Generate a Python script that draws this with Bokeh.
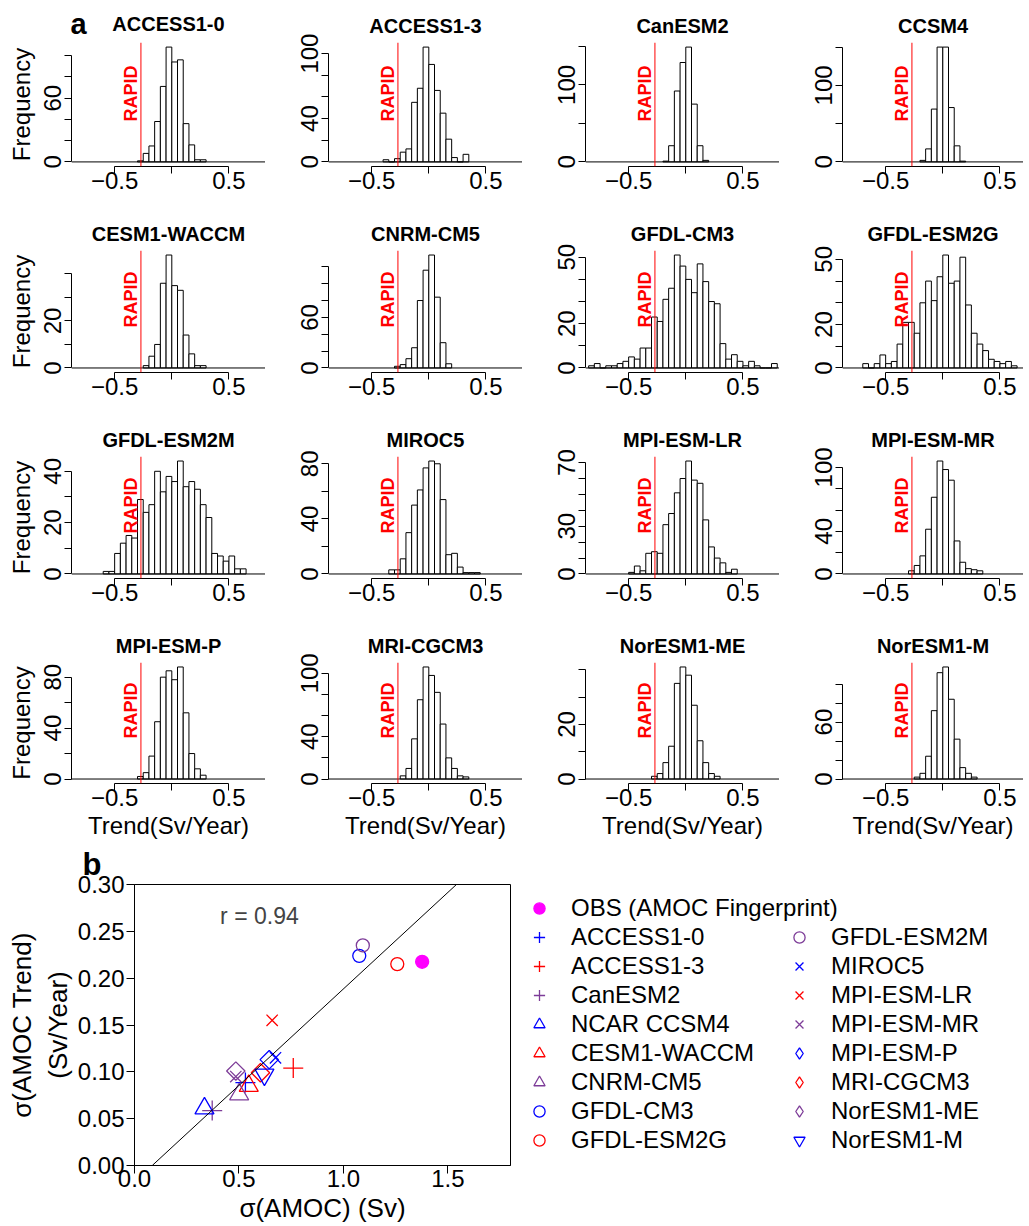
import math
from bokeh.plotting import figure
from bokeh.models import (FixedTicker, Span, Label, Slope, Legend, LegendItem,
                          Range1d, NumeralTickFormatter, Title)
from bokeh.layouts import column, row
from bokeh.embed import file_html
from bokeh.resources import INLINE

FONT = "Liberation Sans"

# ---------------- panel a data ----------------
BIN_WIDTH = 0.05
RAPID_TREND = -0.27

hist_names = ["ACCESS1-0", "ACCESS1-3", "CanESM2", "CCSM4",
              "CESM1-WACCM", "CNRM-CM5", "GFDL-CM3", "GFDL-ESM2G",
              "GFDL-ESM2M", "MIROC5", "MPI-ESM-LR", "MPI-ESM-MR",
              "MPI-ESM-P", "MRI-CGCM3", "NorESM1-ME", "NorESM1-M"]

# left edge of the first bin of each histogram
hist_first_edge = [-0.30, -0.40, -0.20, -0.20, -0.25, -0.30, -0.85, -0.70,
                   -0.60, -0.35, -0.50, -0.30, -0.30, -0.25, -0.30, -0.25]

counts_access1_0 = [1, 8, 15, 38, 71, 108, 94, 96, 36, 16, 2, 2]
counts_access1_3 = [2, 0, 3, 9, 12, 55, 68, 106, 90, 66, 45, 21, 4, 0, 7]
counts_canesm2 = [1, 21, 92, 129, 149, 75, 21, 2]
counts_ccsm4 = [2, 17, 69, 150, 150, 71, 21, 1]
counts_cesm1_waccm = [1, 5, 10, 36, 48, 35, 33, 14, 6, 1, 1]
counts_cnrm_cm5 = [2, 4, 11, 24, 80, 116, 134, 84, 30, 5]
counts_gfdl_cm3 = [1, 2, 0, 1, 1, 2, 3, 5, 4, 9, 9, 23, 21, 31, 36, 51, 46,
                   40, 34, 47, 39, 30, 29, 11, 4, 6, 3, 1, 3, 1, 0, 0, 2]
counts_gfdl_esm2g = [2, 0, 2, 6, 2, 3, 11, 21, 21, 16, 30, 40, 31, 42, 52, 39,
                     40, 51, 29, 16, 11, 8, 4, 3, 2, 3, 1]
counts_gfdl_esm2m = [1, 1, 8, 12, 15, 14, 29, 24, 27, 40, 32, 38, 36, 44, 34,
                     36, 33, 27, 22, 8, 7, 5, 7, 2, 2]
counts_miroc5 = [3, 3, 11, 30, 50, 61, 77, 82, 80, 54, 14, 15, 5, 1, 1, 1]
counts_mpi_esm_lr = [1, 5, 2, 13, 14, 13, 31, 38, 51, 60, 71, 59, 57, 34, 17,
                     10, 7, 1, 3]
counts_mpi_esm_mr = [3, 8, 17, 42, 72, 106, 98, 88, 31, 11, 5, 4, 3]
counts_mpi_esm_p = [2, 5, 18, 45, 80, 85, 78, 88, 52, 20, 8, 3]
counts_mri_cgcm3 = [3, 10, 38, 75, 106, 98, 82, 52, 20, 10, 3, 2]
counts_noresm1_me = [1, 2, 6, 12, 35, 41, 38, 27, 14, 6, 2, 1]
counts_noresm1_m = [2, 6, 24, 72, 112, 118, 84, 42, 12, 6, 2]

hist_counts = [counts_access1_0, counts_access1_3, counts_canesm2, counts_ccsm4,
               counts_cesm1_waccm, counts_cnrm_cm5, counts_gfdl_cm3,
               counts_gfdl_esm2g, counts_gfdl_esm2m, counts_miroc5,
               counts_mpi_esm_lr, counts_mpi_esm_mr, counts_mpi_esm_p,
               counts_mri_cgcm3, counts_noresm1_me, counts_noresm1_m]

ytick_top = [100, 100, 150, 150, 40, 120, 50, 50, 40, 80, 70, 100, 80, 100, 40, 100]
ytick_step = [20, 20, 50, 50, 10, 20, 10, 10, 10, 20, 10, 20, 20, 20, 10, 20]
ytick_shown = [[0, 60], [0, 40, 100], [0, 100], [0, 100], [0, 20], [0, 60],
               [0, 20, 50], [0, 20, 50], [0, 20, 40], [0, 40, 80], [0, 30, 70],
               [0, 40, 100], [0, 40, 80], [0, 40, 100], [0, 20], [0, 60]]
xtick_values = [-0.5, 0.0, 0.5]
xtick_labels = {-0.5: "\u22120.5", 0.0: "", 0.5: "0.5"}

# ---------------- panel b data ----------------
scatter_names = ["OBS (AMOC Fingerprint)", "ACCESS1-0", "ACCESS1-3", "CanESM2",
                 "NCAR CCSM4", "CESM1-WACCM", "CNRM-CM5", "GFDL-CM3",
                 "GFDL-ESM2G", "GFDL-ESM2M", "MIROC5", "MPI-ESM-LR",
                 "MPI-ESM-MR", "MPI-ESM-P", "MRI-CGCM3", "NorESM1-ME", "NorESM1-M"]
sigma_amoc = [1.377, 0.531, 0.760, 0.372, 0.335, 0.547, 0.501, 1.076, 1.258,
              1.093, 0.675, 0.659, 0.485, 0.645, 0.603, 0.485, 0.622]
sigma_trend = [0.2175, 0.0885, 0.104, 0.0586, 0.061, 0.085, 0.076, 0.2238,
               0.215, 0.235, 0.115, 0.155, 0.095, 0.113, 0.099, 0.1008, 0.097]
fit_slope = 0.206
fit_intercept = -0.0175
r_text = "r = 0.94"
r_pos = (0.598, 0.266)

BLUE = "#0000FF"
RED = "#FF0000"
PURPLE = "#7D3C98"
MAGENTA = "#FF00FF"
scatter_markers = ["circle", "cross", "cross", "cross", "triangle", "triangle",
                   "triangle", "circle", "circle", "circle", "x", "x", "x",
                   "square", "square", "square", "inverted_triangle"]
scatter_colors = [MAGENTA, BLUE, RED, PURPLE, BLUE, RED, PURPLE, BLUE, RED,
                  PURPLE, BLUE, RED, PURPLE, BLUE, RED, PURPLE, BLUE]
MARKER_SIZE = {"circle": 13, "cross": 20, "triangle": 19, "x": 16,
               "square": 13, "inverted_triangle": 19}
MARKER_ANGLE = {"square": math.pi / 4}
LEGEND_MARKER = {"square": "diamond"}

# ---------------- layout constants ----------------
PX_PER_UNIT = 114.3
FRAME_H = 124
COL_WIDTH = [265, 257, 257, 244]
COL_LEFT = [71, 63, 63, 63]
ROW_HEIGHT = [214, 206, 206, 216]
ROW_TOP = [42, 34, 34, 33]


def style_axis(ax, size="24px"):
    ax.major_label_text_font = FONT
    ax.major_label_text_font_size = size
    ax.major_label_text_color = "black"
    ax.axis_label_text_font = FONT
    ax.axis_label_text_font_size = size
    ax.axis_label_text_font_style = "normal"
    ax.axis_label_text_color = "black"
    ax.axis_line_color = "black"
    ax.major_tick_line_color = "black"
    ax.major_tick_in = 0
    ax.major_tick_out = 7
    ax.minor_tick_out = 0
    ax.minor_tick_in = 0


def hist_panel(i, r, k):
    counts = hist_counts[i]
    first = hist_first_edge[i]
    left = [first + j * BIN_WIDTH for j in range(len(counts))]
    right = [v + BIN_WIDTH for v in left]
    M = max(counts)
    width = COL_WIDTH[k]
    height = ROW_HEIGHT[r]
    top_b = ROW_TOP[r]
    bottom_b = height - top_b - FRAME_H
    fw = width - COL_LEFT[k]
    x0 = -0.8775
    x1 = x0 + fw / PX_PER_UNIT
    p = figure(width=width, height=height, x_range=Range1d(x0, x1),
               y_range=Range1d(-0.04 * M, 1.04 * M), output_backend="svg",
               toolbar_location=None, min_border_left=COL_LEFT[k],
               min_border_right=0, min_border_top=top_b,
               min_border_bottom=bottom_b, title=hist_names[i])
    p.title.text_font = FONT
    p.title.text_font_size = "20px"
    p.title.text_font_style = "bold"
    p.title.text_color = "black"
    p.title.align = "center"
    p.title.standoff = 12
    p.grid.visible = False
    p.outline_line_color = None
    p.background_fill_color = None
    p.border_fill_color = None

    p.quad(left=left, right=right, bottom=0, top=counts, fill_color="white",
           line_color="black", line_width=1)
    p.add_layout(Span(location=0, dimension="width", line_color="black",
                      line_width=1))
    p.add_layout(Span(location=RAPID_TREND, dimension="height",
                      line_color="red", line_width=1))
    p.add_layout(Label(x=RAPID_TREND, y=73, x_units="data", y_units="screen",
                       text="RAPID", angle=math.pi / 2, text_align="center",
                       text_baseline="bottom", text_color="red",
                       text_font=FONT, text_font_size="18px",
                       text_font_style="bold"))

    xa = p.xaxis[0]
    style_axis(xa)
    xa.ticker = FixedTicker(ticks=xtick_values)
    xa.major_label_overrides = xtick_labels
    xa.bounds = (-0.5, 0.5)
    xa.major_label_standoff = -2
    if r == 3:
        xa.axis_label = "Trend(Sv/Year)"
        xa.axis_label_standoff = 3

    ya = p.yaxis[0]
    style_axis(ya)
    ticks = list(range(0, ytick_top[i] + 1, ytick_step[i]))
    ya.ticker = FixedTicker(ticks=ticks)
    ya.major_label_overrides = {t: (str(t) if t in ytick_shown[i] else "")
                                for t in ticks}
    ya.bounds = (0, ytick_top[i])
    ya.major_label_orientation = "vertical"
    ya.major_label_standoff = 3
    if k == 0:
        ya.axis_label = "Frequency"
        ya.axis_label_standoff = 7

    if i == 0:
        # panel letter, drawn in the same band as the model title
        p.add_layout(Title(text="a", align="left", offset=-1, standoff=6,
                           text_font=FONT, text_font_size="29px",
                           text_font_style="bold", text_color="black"),
                     "above")
        p.title.standoff = -65
    return p


rows = []
for r in range(4):
    rows.append(row(*[hist_panel(4 * r + k, r, k) for k in range(4)]))

# ---------------- panel b ----------------
s = figure(width=520, height=383, x_range=Range1d(0, 1.8),
           y_range=Range1d(0, 0.30), output_backend="svg",
           toolbar_location=None, min_border_left=134, min_border_right=10,
           min_border_top=41, min_border_bottom=57, title="b")
s.title.text_font = FONT
s.title.text_font_size = "31px"
s.title.text_font_style = "bold"
s.title.text_color = "black"
s.title.align = "left"
s.title.offset = -52
s.title.standoff = 5
s.grid.visible = False
s.outline_line_color = "black"
s.outline_line_width = 1
s.background_fill_color = None
s.border_fill_color = None

s.add_layout(Slope(gradient=fit_slope, y_intercept=fit_intercept,
                   line_color="black", line_width=1))

for i in range(len(scatter_names)):
    m = scatter_markers[i]
    c = scatter_colors[i]
    s.scatter([sigma_amoc[i]], [sigma_trend[i]], marker=m, size=MARKER_SIZE[m],
              angle=MARKER_ANGLE.get(m, 0.0), line_color=c,
              fill_color=(c if i == 0 else None), line_width=1.3)

sx = s.xaxis[0]
style_axis(sx, "24px")
sx.major_tick_out = 8
sx.ticker = FixedTicker(ticks=[0.0, 0.5, 1.0, 1.5])
sx.formatter = NumeralTickFormatter(format="0.0")
sx.axis_label = "\u03c3(AMOC) (Sv)"
sx.axis_label_text_font_size = "26px"
sx.major_label_standoff = -4
sx.axis_label_standoff = 3

sy = s.yaxis[0]
style_axis(sy, "24px")
sy.major_tick_out = 8
sy.ticker = FixedTicker(ticks=[0.0, 0.05, 0.10, 0.15, 0.20, 0.25, 0.30])
sy.formatter = NumeralTickFormatter(format="0.00")
sy.major_label_orientation = "horizontal"
sy.axis_label = "\u03c3(AMOC Trend)\n(Sv/Year)"
sy.axis_label_text_font_size = "26px"
sy.major_label_standoff = 2
sy.axis_label_standoff = 2

s.add_layout(Label(x=r_pos[0], y=r_pos[1], text=r_text, text_font=FONT,
                   text_font_size="23px", text_align="center",
                   text_baseline="middle"))

# ---------------- legend (separate canvas, its glyphs lie off-range) --------
lf = figure(width=504, height=383, x_range=Range1d(10, 11),
            y_range=Range1d(10, 11), output_backend="svg",
            toolbar_location=None, min_border=0,
            x_axis_location=None, y_axis_location=None)
lf.grid.visible = False
lf.outline_line_color = None
lf.background_fill_color = None
lf.border_fill_color = None

legend_rends = []
for i in range(len(scatter_names)):
    m = scatter_markers[i]
    c = scatter_colors[i]
    legend_rends.append(lf.scatter([sigma_amoc[i]], [sigma_trend[i]],
                                   marker=LEGEND_MARKER.get(m, m),
                                   size=MARKER_SIZE[m],
                                   line_color=c,
                                   fill_color=(c if i == 0 else None),
                                   line_width=1.3))


def make_legend(idx, loc):
    leg = Legend(items=[LegendItem(label=scatter_names[j],
                                   renderers=[legend_rends[j]]) for j in idx],
                 location=loc)
    leg.label_text_font = FONT
    leg.label_text_font_size = "24px"
    leg.label_text_color = "black"
    leg.glyph_width = 30
    leg.glyph_height = 28
    leg.label_height = 28
    leg.spacing = 1
    leg.padding = 5
    leg.margin = 0
    leg.label_standoff = 17
    leg.border_line_color = None
    leg.background_fill_alpha = 0
    return leg


lf.add_layout(make_legend(range(0, 9), (4, 11)))
lf.add_layout(make_legend(range(9, 17), (264, 11)))

page = column(*rows, row(s, lf))
open("out.html", "w").write(file_html(page, INLINE))
